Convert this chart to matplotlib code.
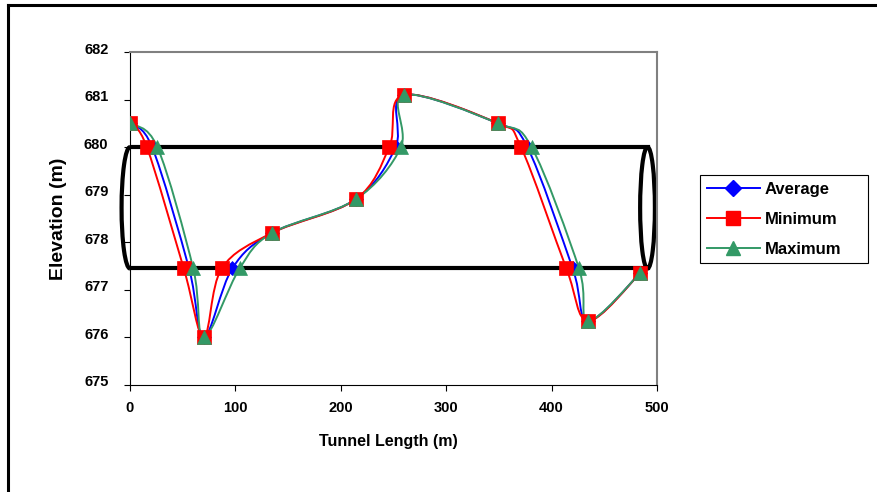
#Import needed libraries
import numpy as np
import matplotlib
matplotlib.use("Agg")
import matplotlib.pyplot as plt
from matplotlib.path import Path
from matplotlib.patches import PathPatch, Ellipse, Arc
from matplotlib.lines import Line2D
import matplotlib.transforms as mtransforms

plt.rcParams['font.family'] = ['Liberation Sans', 'DejaVu Sans']
plt.rcParams['font.weight'] = 'bold'

#Data (tunnel length in m, elevation in m)
x_avg = [0, 21, 56, 70, 97, 135, 214, 252, 260, 349, 377, 420, 435, 484]
x_min = [0, 16, 51, 70, 87, 135, 214, 246, 260, 349, 371, 414, 435, 484]
x_max = [0, 26, 60, 70, 104, 135, 214, 257, 260, 349, 381, 426, 435, 484]
elev = [680.5, 680.0, 677.45, 676.0, 677.45, 678.2, 678.9, 680.0, 681.1, 680.5, 680.0, 677.45, 676.35, 677.35]

series_names = ['Average', 'Minimum', 'Maximum']
series_colors = ['#0000FF', '#FF0000', '#339966']
series_markers = ['D', 's', '^']
series_msize = [7, 10, 10]

#Tunnel outline
tunnel_top = 680.0
tunnel_bottom = 677.45
tunnel_end = 491
tunnel_cap_width = 14

xticks = [0, 100, 200, 300, 400, 500]
yticks = [675, 676, 677, 678, 679, 680, 681, 682]


#Smoothed line like Excel (Catmull-Rom bezier through the points)
def smooth_path(xs, ys):
    pts = np.column_stack([xs, ys]).astype(float)
    n = len(pts)
    verts = [pts[0]]
    codes = [Path.MOVETO]
    for i in range(n - 1):
        p0 = pts[i - 1] if i > 0 else pts[i]
        p1 = pts[i]
        p2 = pts[i + 1]
        p3 = pts[i + 2] if i + 2 < n else pts[i + 1]
        verts += [p1 + (p2 - p0) / 6.0, p2 - (p3 - p1) / 6.0, p2]
        codes += [Path.CURVE4] * 3
    return Path(verts, codes)


fig = plt.figure(figsize=(8.77, 4.92), dpi=100)
ax = fig.add_axes([130 / 877, 107 / 492, 527 / 877, 333 / 492])

#Tunnel drawn first
ax.plot([0, tunnel_end], [tunnel_top, tunnel_top], color='black', lw=3, zorder=1)
ax.plot([0, tunnel_end], [tunnel_bottom, tunnel_bottom], color='black', lw=3, zorder=1)
mid = (tunnel_top + tunnel_bottom) / 2
h = tunnel_top - tunnel_bottom
ax.add_patch(Ellipse((tunnel_end, mid), tunnel_cap_width, h, fill=False,
                     edgecolor='black', lw=3, zorder=1))
ax.add_patch(Arc((0, mid), 16, h, theta1=90, theta2=270, edgecolor='black',
                 lw=3, zorder=1, clip_on=False))

#Series
for xs, name, col, mk, ms in zip([x_avg, x_min, x_max], series_names,
                                 series_colors, series_markers, series_msize):
    ax.add_patch(PathPatch(smooth_path(xs, elev), facecolor='none',
                           edgecolor=col, lw=1.4, zorder=2))
    ax.plot(xs, elev, linestyle='none', marker=mk, ms=ms, color=col,
            markeredgecolor=col, mew=0.5, zorder=3)

ax.set_xlim(0, 500)
ax.set_ylim(675, 682)
ax.set_xticks(xticks)
ax.set_yticks(yticks)
ax.tick_params(axis='both', direction='out', length=4.5, width=0.8,
               labelsize=10.5, colors='black')
ax.tick_params(axis='y', pad=11)
ax.tick_params(axis='x', pad=7)
for lab in ax.get_xticklabels() + ax.get_yticklabels():
    lab.set_fontweight('bold')
offset = mtransforms.ScaledTranslation(0, 0.04, fig.dpi_scale_trans)
for lab in ax.get_yticklabels():
    lab.set_transform(lab.get_transform() + offset)

ax.spines['left'].set_color('black')
ax.spines['bottom'].set_color('black')
ax.spines['left'].set_linewidth(0.8)
ax.spines['bottom'].set_linewidth(0.8)
ax.spines['top'].set_color('#808080')
ax.spines['right'].set_color('#808080')
ax.spines['top'].set_linewidth(1.5)
ax.spines['right'].set_linewidth(1.5)

ax.set_xlabel('Tunnel Length (m)', fontsize=11.5, fontweight='bold', va='center')
ax.xaxis.set_label_coords(0.49, -0.17)
ax.set_ylabel('Elevation (m)', fontsize=14, fontweight='bold', va='center')
ax.yaxis.set_label_coords(-0.135, 0.5)

#Legend
handles = [Line2D([], [], color=c, lw=1.4, marker=m, ms=s, markeredgecolor=c)
           for c, m, s in zip(series_colors, series_markers, [8, 10, 10])]
leg = fig.legend(handles, series_names, loc='upper left',
                 bbox_to_anchor=(700 / 877, 230 / 492, 168 / 877, 87 / 492),
                 bbox_transform=fig.transFigure, borderaxespad=0, mode='expand',
                 fancybox=False, framealpha=1, edgecolor='black',
                 prop={'size': 12, 'weight': 'bold'}, handlelength=3.2,
                 handletextpad=0.3, labelspacing=0.9, borderpad=0.4)
leg.get_frame().set_linewidth(0.8)

#Outer chart border (left and top visible)
fig.add_artist(Line2D([8 / 877, 8 / 877], [0, 1 - 5 / 492], color='black',
                      lw=2.2, transform=fig.transFigure))
fig.add_artist(Line2D([8 / 877, 1], [1 - 5 / 492, 1 - 5 / 492], color='black',
                      lw=2.2, transform=fig.transFigure))

fig.savefig('out.png', dpi=100)
